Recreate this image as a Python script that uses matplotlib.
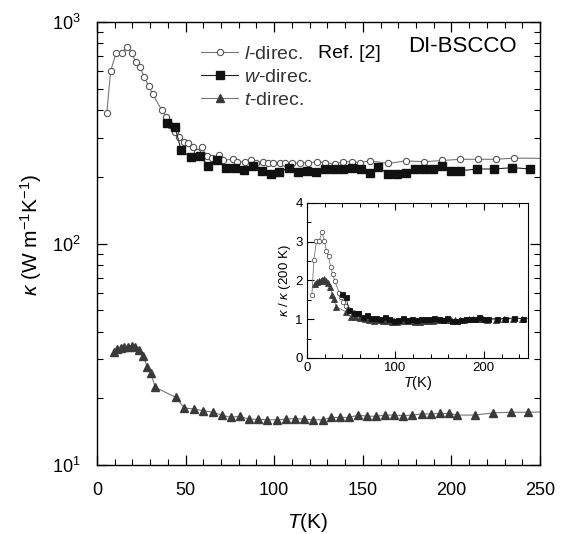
import numpy as np
import matplotlib
matplotlib.use('Agg')
import matplotlib.pyplot as plt
from matplotlib.ticker import MultipleLocator, LogLocator, NullFormatter

plt.rcParams['font.family'] = ['Liberation Sans', 'DejaVu Sans']
plt.rcParams['mathtext.fontset'] = 'custom'
plt.rcParams['mathtext.rm'] = 'Liberation Sans'
plt.rcParams['mathtext.it'] = 'Liberation Sans:italic'

# thermal conductivity, l direction (open circles)
T_l = [5.5, 7.7, 10.7, 13.9, 16.7, 19.6, 22, 24.3, 26.7, 29.2, 31.4, 36.5, 38.9, 41.2, 44,
       46.5, 49.1, 51.5, 54, 56.2, 59, 61.9, 64.7, 69, 71.3, 76.6, 78.8, 83.5, 86.7, 90,
       93.9, 96.7, 99.5, 103.3, 106, 109.9, 114.6, 119.2, 124, 128.7, 134.3, 139, 143.7,
       148.4, 154, 164.4, 174.4, 184.7, 194.9, 204.9, 215.2, 225.2, 235.5, 258]
k_l = [387, 601, 722, 722, 774, 722, 658, 625, 562, 514, 472, 401, 374, 343, 318,
       303, 288, 285, 274, 260, 274, 248, 243, 251, 238, 240, 234, 233, 238, 232,
       234, 232, 230, 230, 230, 230, 231, 232, 233, 232, 228, 234, 234,
       232, 236, 230, 236, 234, 237, 240, 240, 240, 243, 242]

# w direction (filled squares)
T_w = [39.3, 44, 47.4, 52.9, 58.1, 62.8, 67.5, 72.8, 77.9, 83, 87.9, 92.9, 98, 102.9,
       108.2, 113.3, 118.5, 123.6, 128.7, 133.7, 138.7, 143.7, 148.8, 154, 158.8, 164,
       169.1, 174.2, 179.5, 184.5, 189.8, 194.9, 199.8, 204.9, 214.6, 224.2, 234.4, 244.4]
k_w = [351, 337, 264, 245, 248, 224, 237, 220, 220, 215, 224, 213, 206, 211,
       219, 211, 212, 211, 216, 216, 216, 219, 216, 209, 222, 206,
       206, 209, 216, 216, 216, 224, 213, 213, 217, 217, 220, 217]

# t direction (filled triangles)
T_t = [9.5, 11.5, 13.5, 15.5, 17.5, 19.5, 21.5, 23.5, 26, 28.4, 30.3, 32.9, 44.6, 49.2,
       54.6, 60, 65.3, 70.4, 75.5, 80.5, 85.8, 91, 96.1, 101.3, 106.4, 111.7, 116.9, 122.1,
       127.3, 132.1, 137.2, 142.2, 147.5, 152.5, 157.5, 162.5, 167.7, 172.9, 178, 183.2,
       188.3, 193.6, 198.6, 203.3, 213.3, 223.3, 233.5, 243.4, 258]
k_t = [32.5, 33.5, 33.8, 34, 34.2, 34.5, 34, 33, 31, 27.8, 26.1, 22.4, 20.2, 18.1,
       17.9, 17.6, 17.3, 16.8, 16.4, 16.6, 16.1, 16.1, 16.0, 16.0, 16.1, 16.2, 16.1, 16.0,
       16.0, 16.4, 16.4, 16.4, 16.8, 16.6, 16.6, 16.8, 16.8, 16.7, 16.8, 17.0,
       17.0, 17.1, 17.1, 16.8, 16.8, 17.2, 17.3, 17.3, 17.4]

fig = plt.figure(figsize=(5.65, 5.34), dpi=100)
ax = fig.add_axes([0.1717, 0.1292, 0.7841, 0.8296])

ax.plot(T_l, k_l, '-o', color='#777777', lw=0.8, ms=4.5, mfc='white', mec='#555555',
        mew=0.8, label='$\\it{l}$-direc.')
ax.plot(T_w, k_w, '-s', color='#222222', lw=0.8, ms=5.5, mfc='#111111', mec='#111111',
        label='$\\it{w}$-direc.')
ax.plot(T_t, k_t, '-^', color='#777777', lw=0.8, ms=6, mfc='#3a3a3a', mec='#3a3a3a',
        label='$\\it{t}$-direc.')

ax.set_yscale('log')
ax.set_xlim(0, 250)
ax.set_ylim(10, 1000)
ax.xaxis.set_major_locator(MultipleLocator(50))
ax.xaxis.set_minor_locator(MultipleLocator(10))
ax.yaxis.set_minor_locator(LogLocator(base=10, subs=np.arange(2, 10)))
ax.yaxis.set_minor_formatter(NullFormatter())
ax.tick_params(which='both', direction='in', top=True, right=True, labelsize=13, pad=12)
ax.tick_params(which='major', length=7, width=0.9)
ax.tick_params(which='minor', length=4, width=0.8)
for s in ax.spines.values():
    s.set_linewidth(1.0)

ax.set_xlabel('$\\it{T}$(K)', fontsize=15)
ax.xaxis.set_label_coords(0.476, -0.104)
ax.set_ylabel('$\\it{\\kappa}$ (W m$^{-1}$K$^{-1}$)', fontsize=15)
ax.yaxis.set_label_coords(-0.12, 0.519)

leg = ax.legend(loc='upper left', bbox_to_anchor=(0.235, 0.947), frameon=False,
                fontsize=14, handlelength=1.9, handletextpad=0.3, labelspacing=0.28,
                borderpad=0, borderaxespad=0)
for t in leg.get_texts():
    t.set_color('#333333')
ax.text(0.499, 0.930, 'Ref. [2]', transform=ax.transAxes, fontsize=14, va='center')
ax.text(0.702, 0.9436, 'DI-BSCCO', transform=ax.transAxes, fontsize=16, va='center')

# inset: normalised to the 200 K value
axi = fig.add_axes([0.5434, 0.3296, 0.3912, 0.2903])
for T, k, fmt, lc, mfc, mec, ms in [(T_l, k_l, '-o', '#777777', 'white', '#555555', 3.2),
                                    (T_t, k_t, '-^', '#777777', '#3a3a3a', '#3a3a3a', 3.8),
                                    (T_w, k_w, '-s', '#222222', '#111111', '#111111', 3.6)]:
    k = np.array(k)
    axi.plot(T, k / np.interp(200, T, k), fmt, color=lc, lw=0.6, ms=ms, mfc=mfc, mec=mec,
             mew=0.6)
axi.set_xlim(0, 250)
axi.set_ylim(0, 4)
axi.xaxis.set_major_locator(MultipleLocator(100))
axi.xaxis.set_minor_locator(MultipleLocator(20))
axi.yaxis.set_major_locator(MultipleLocator(1))
axi.yaxis.set_minor_locator(MultipleLocator(0.5))
axi.tick_params(which='both', direction='in', top=True, right=False, labelsize=9.5, pad=3)
axi.tick_params(which='major', length=5, width=0.8)
axi.tick_params(which='minor', length=3, width=0.7)
axi.set_xlabel('$\\it{T}$(K)', fontsize=10.5, labelpad=0)
axi.set_ylabel('$\\it{\\kappa}$ / $\\it{\\kappa}$ (200 K)', fontsize=9.5, labelpad=2)

fig.savefig('out.png', dpi=100)
